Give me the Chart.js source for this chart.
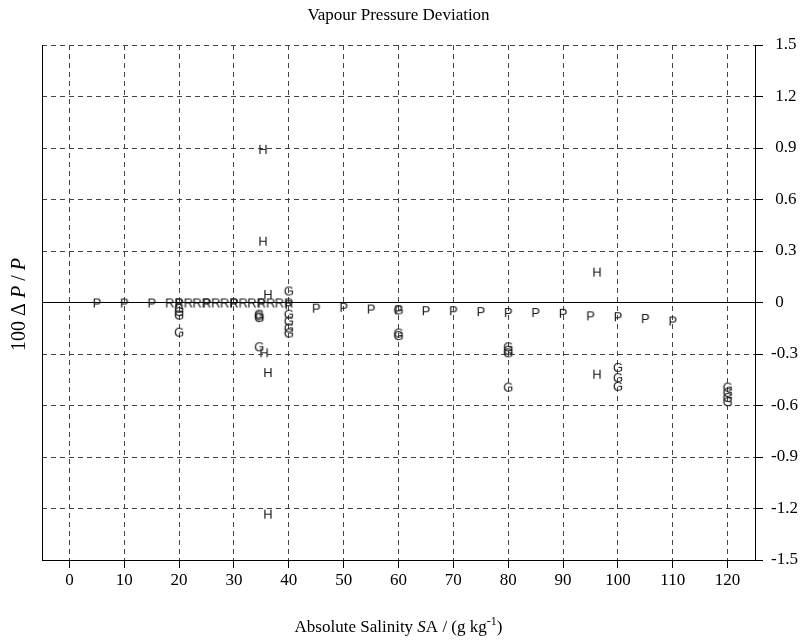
<!DOCTYPE html>
<html>
<head>
<meta charset="utf-8">
<title>Vapour Pressure Deviation</title>
<script src="https://cdn.jsdelivr.net/npm/chart.js@4.4.1/dist/chart.umd.min.js"></script>
<style>
  body { margin:0; background:#fff; }
  #plots { width:809px; height:641px; }
</style>
</head>
<body>
<div id="plots"><canvas id="canvas_1" width="809" height="641"></canvas></div>
<script>

// Absolute salinity (g/kg) and 100*dP/P, one pair of arrays per letter
var pX=[5,10,15,20,25,30,35,40,45,50,55,60,65,70,75,80,85,90,95,100,105,110];
var pY=[0,0,0,0,0,0,0,-0.01,-0.03,-0.025,-0.035,-0.04,-0.045,-0.045,-0.05,-0.055,-0.055,-0.06,-0.075,-0.08,-0.09,-0.105];

var rX=[18.3,20,21.7,23.3,25,26.7,28.3,30,31.7,33.3,35,36.7,38.3,40];
var rY=[0,0,0,0,0,0,0,0,0,0,0,0,0,0];

var gX=[20,20,20,20, 34.6,34.6,34.6,34.6, 40,40,40,40,40, 60,60,60, 80,80,80,80, 100,100,100, 120,120,120,120];
var gY=[-0.03,-0.05,-0.07,-0.17, -0.065,-0.075,-0.085,-0.255, 0.07,-0.065,-0.105,-0.145,-0.175, -0.04,-0.175,-0.19, -0.255,-0.275,-0.29,-0.49, -0.375,-0.435,-0.485, -0.49,-0.52,-0.55,-0.575];

var hX=[35.3,35.3,36.2,35.5,36.2,36.2,96.2,96.2];
var hY=[0.895,0.36,0.05,-0.29,-0.405,-1.23,0.18,-0.415];

var zeroLineX=[-5,125];
var zeroLineY=[0,0];

var xTicks=[0,10,20,30,40,50,60,70,80,90,100,110,120];
var xTickLabels=['0','10','20','30','40','50','60','70','80','90','100','110','120'];
var yTicks=[-1.5,-1.2,-0.9,-0.6,-0.3,0,0.3,0.6,0.9,1.2,1.5];
var yTickLabels=['-1.5','-1.2','-0.9','-0.6','-0.3',' 0',' 0.3',' 0.6',' 0.9',' 1.2',' 1.5'];

var mainTitle='Vapour Pressure Deviation';
var serif='"Liberation Serif", "Times New Roman", serif';


function pairs(xs,ys) {
	var out=[];
	for (var i=0;i<xs.length;i++) { out.push({x:xs[i],y:ys[i]}); }
	return out;
}

// small canvas with a letter, used as the point style
function letterMark(ch) {
	var c=document.createElement('canvas');
	c.width=14; c.height=16;
	var cx=c.getContext('2d');
	cx.font='13px "Liberation Sans", Arial, sans-serif';
	cx.fillStyle='#1a1a1a';
	cx.textAlign='center';
	cx.textBaseline='alphabetic';
	cx.fillText(ch,7,8+4.6);
	return c;
}

function letterSet(label,xs,ys) {
	return {
		label: label,
		data: pairs(xs,ys),
		pointStyle: letterMark(label),
		pointRadius: 3,
		showLine: false
	};
}

// draw a row of text pieces centred on x (pieces can change font / shift up)
function drawParts(ctx,parts,x,y) {
	var total=0;
	for (var i=0;i<parts.length;i++) { ctx.font=parts[i].f; total+=ctx.measureText(parts[i].t).width; }
	var pos=x-total/2;
	ctx.textAlign='left';
	for (i=0;i<parts.length;i++) {
		ctx.font=parts[i].f;
		ctx.fillText(parts[i].t,pos,y+(parts[i].dy||0));
		pos+=ctx.measureText(parts[i].t).width;
	}
}

var xTitleParts=[
	{t:'Absolute Salinity ', f:'17px '+serif},
	{t:'S', f:'italic 17px '+serif},
	{t:'A / (g kg', f:'17px '+serif},
	{t:'-1', f:'12px '+serif, dy:-7},
	{t:')', f:'17px '+serif}
];
var yTitleParts=[
	{t:'100 \u0394 ', f:'20px '+serif},
	{t:'P', f:'italic 20px '+serif},
	{t:' / ', f:'20px '+serif},
	{t:'P', f:'italic 20px '+serif}
];

var titles = {
	id: 'titles',
	afterDraw: function(chart) {
		var ctx=chart.ctx, a=chart.chartArea;
		ctx.save();
		ctx.fillStyle='#000';
		ctx.textBaseline='alphabetic';
		ctx.font='17px '+serif;
		ctx.textAlign='center';
		ctx.fillText(mainTitle,(a.left+a.right)/2,20);
		drawParts(ctx,xTitleParts,(a.left+a.right)/2,632);
		ctx.translate(25,(a.top+a.bottom)/2+2);
		ctx.rotate(-Math.PI/2);
		drawParts(ctx,yTitleParts,0,0);
		ctx.restore();
	}
};

var datasetZero = {
	label: 'zero',
	data: pairs(zeroLineX,zeroLineY),
	showLine: true,
	borderColor: '#000',
	borderWidth: 1,
	pointRadius: 0,
	fill: false
};

var chartData = {
	datasets: [ datasetZero, letterSet('P',pX,pY), letterSet('R',rX,rY), letterSet('G',gX,gY), letterSet('H',hX,hY) ]
};

var canvasToDraw=document.getElementById('canvas_1');
var newChart = new Chart(canvasToDraw, {
	type: 'scatter',
	data: chartData,
	plugins: [titles],
	options: {
		responsive: false,
		animation: false,
		events: [],
		layout: { padding: { left: 42, top: 45, right: 0, bottom: 0 } },
		plugins: { legend: { display: false }, tooltip: { enabled: false }, title: { display: false } },
		scales: {
			x: {
				type: 'linear', position: 'bottom', min: -5, max: 125,
				afterBuildTicks: function(s) { s.ticks=xTicks.map(function(v){ return {value:v}; }); },
				afterFit: function(s) { s.height=81; },
				grid: { color: '#444', lineWidth: 1, tickLength: 8, tickColor: '#000', tickBorderDash: [] },
				border: { display: true, color: '#000', width: 1, dash: [5,4] },
				ticks: {
					color: '#000', padding: 2, maxRotation: 0, autoSkip: false,
					font: { family: serif, size: 17 },
					callback: function(v) { var i=xTicks.indexOf(v); return i<0 ? '' : xTickLabels[i]; }
				}
			},
			y: {
				type: 'linear', position: 'right', min: -1.5, max: 1.5,
				afterBuildTicks: function(s) { s.ticks=yTicks.map(function(v){ return {value:v}; }); },
				afterFit: function(s) { s.width=54; },
				grid: { color: '#444', lineWidth: 1, tickLength: 8, tickColor: '#000', tickBorderDash: [] },
				border: { display: true, color: '#000', width: 1, dash: [5,4] },
				ticks: {
					color: '#000', padding: 8, autoSkip: false,
					font: { family: serif, size: 17 },
					callback: function(v) {
						for (var i=0;i<yTicks.length;i++) { if (Math.abs(yTicks[i]-v)<1e-6) return yTickLabels[i]; }
						return '';
					}
				}
			},
			// only here for the left frame line
			yLeft: {
				type: 'linear', position: 'left', min: -1.5, max: 1.5,
				afterFit: function(s) { s.width=0; },
				grid: { drawOnChartArea: false, drawTicks: false },
				border: { display: true, color: '#000', width: 1 },
				ticks: { display: false }
			}
		}
	}
});

</script>
</body>
</html>
